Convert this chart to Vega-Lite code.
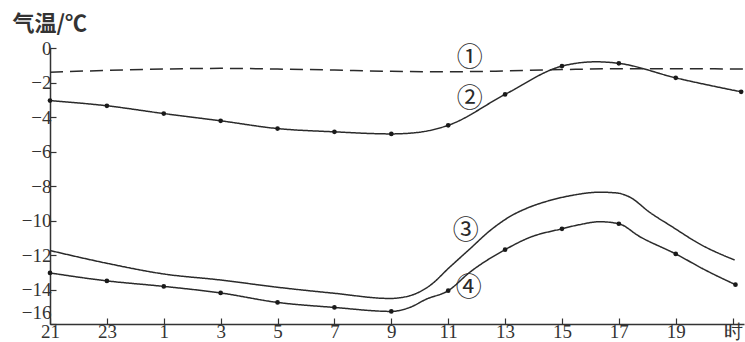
{
  "$schema": "https://vega.github.io/schema/vega-lite/v6.json",
  "autosize": {"type": "none"},
  "padding": {"left": 50, "top": 48, "right": 1, "bottom": 18},
  "width": 694,
  "height": 276,
  "background": "white",
  "config": {"view": {"stroke": null}},
  "datasets": {
    "lines": [
      {"s": "1", "t": 0, "v": -1.4, "dot": false},
      {"s": "1", "t": 2, "v": -1.3, "dot": false},
      {"s": "1", "t": 4, "v": -1.22, "dot": false},
      {"s": "1", "t": 6, "v": -1.18, "dot": false},
      {"s": "1", "t": 8, "v": -1.22, "dot": false},
      {"s": "1", "t": 10, "v": -1.28, "dot": false},
      {"s": "1", "t": 12, "v": -1.35, "dot": false},
      {"s": "1", "t": 14, "v": -1.38, "dot": false},
      {"s": "1", "t": 16, "v": -1.33, "dot": false},
      {"s": "1", "t": 18, "v": -1.25, "dot": false},
      {"s": "1", "t": 20, "v": -1.2, "dot": false},
      {"s": "1", "t": 22, "v": -1.2, "dot": false},
      {"s": "1", "t": 24.4, "v": -1.22, "dot": false},
      {"s": "2", "t": 0, "v": -3.05, "dot": true},
      {"s": "2", "t": 2, "v": -3.35, "dot": true},
      {"s": "2", "t": 4, "v": -3.8, "dot": true},
      {"s": "2", "t": 6, "v": -4.22, "dot": true},
      {"s": "2", "t": 8, "v": -4.67, "dot": true},
      {"s": "2", "t": 10, "v": -4.86, "dot": true},
      {"s": "2", "t": 12, "v": -4.98, "dot": true},
      {"s": "2", "t": 12.9, "v": -4.9, "dot": false},
      {"s": "2", "t": 14, "v": -4.48, "dot": true},
      {"s": "2", "t": 16, "v": -2.69, "dot": true},
      {"s": "2", "t": 18, "v": -1.05, "dot": true},
      {"s": "2", "t": 19.2, "v": -0.8, "dot": false},
      {"s": "2", "t": 20, "v": -0.89, "dot": true},
      {"s": "2", "t": 22, "v": -1.73, "dot": true},
      {"s": "2", "t": 24.3, "v": -2.54, "dot": true},
      {"s": "3", "t": 0, "v": -11.74, "dot": false},
      {"s": "3", "t": 2, "v": -12.48, "dot": false},
      {"s": "3", "t": 4, "v": -13.1, "dot": false},
      {"s": "3", "t": 6, "v": -13.45, "dot": false},
      {"s": "3", "t": 8, "v": -13.87, "dot": false},
      {"s": "3", "t": 10, "v": -14.22, "dot": false},
      {"s": "3", "t": 11.95, "v": -14.52, "dot": false},
      {"s": "3", "t": 12.65, "v": -14.36, "dot": false},
      {"s": "3", "t": 13.35, "v": -13.78, "dot": false},
      {"s": "3", "t": 14.05, "v": -12.71, "dot": false},
      {"s": "3", "t": 14.76, "v": -11.65, "dot": false},
      {"s": "3", "t": 15.46, "v": -10.6, "dot": false},
      {"s": "3", "t": 16.16, "v": -9.78, "dot": false},
      {"s": "3", "t": 16.87, "v": -9.22, "dot": false},
      {"s": "3", "t": 17.57, "v": -8.84, "dot": false},
      {"s": "3", "t": 18.27, "v": -8.57, "dot": false},
      {"s": "3", "t": 19.33, "v": -8.36, "dot": false},
      {"s": "3", "t": 19.91, "v": -8.4, "dot": false},
      {"s": "3", "t": 20.38, "v": -8.64, "dot": false},
      {"s": "3", "t": 21.08, "v": -9.52, "dot": false},
      {"s": "3", "t": 21.9, "v": -10.39, "dot": false},
      {"s": "3", "t": 22.84, "v": -11.36, "dot": false},
      {"s": "3", "t": 24.07, "v": -12.29, "dot": false},
      {"s": "4", "t": 0, "v": -13.04, "dot": true},
      {"s": "4", "t": 2, "v": -13.5, "dot": true},
      {"s": "4", "t": 4, "v": -13.82, "dot": true},
      {"s": "4", "t": 6, "v": -14.2, "dot": true},
      {"s": "4", "t": 8, "v": -14.75, "dot": true},
      {"s": "4", "t": 10, "v": -15.04, "dot": true},
      {"s": "4", "t": 12, "v": -15.27, "dot": true},
      {"s": "4", "t": 12.65, "v": -15.04, "dot": false},
      {"s": "4", "t": 13.23, "v": -14.56, "dot": false},
      {"s": "4", "t": 14, "v": -14.07, "dot": true},
      {"s": "4", "t": 14.76, "v": -13.0, "dot": false},
      {"s": "4", "t": 16, "v": -11.69, "dot": true},
      {"s": "4", "t": 16.87, "v": -10.98, "dot": false},
      {"s": "4", "t": 18, "v": -10.48, "dot": true},
      {"s": "4", "t": 18.62, "v": -10.24, "dot": false},
      {"s": "4", "t": 19.33, "v": -10.07, "dot": false},
      {"s": "4", "t": 20, "v": -10.19, "dot": true},
      {"s": "4", "t": 20.73, "v": -10.93, "dot": false},
      {"s": "4", "t": 22, "v": -11.94, "dot": true},
      {"s": "4", "t": 23.07, "v": -12.9, "dot": false},
      {"s": "4", "t": 24.1, "v": -13.72, "dot": true}
    ],
    "labels": [
      {"label": "①", "t": 14.76, "v": -0.56},
      {"label": "②", "t": 14.76, "v": -2.97},
      {"label": "③", "t": 14.62, "v": -10.58},
      {"label": "④", "t": 14.72, "v": -13.93}
    ]
  },
  "encoding": {
    "x": {
      "field": "t", "type": "quantitative",
      "scale": {"domain": [0, 24.4], "nice": false, "zero": false},
      "axis": {
        "values": [0, 2, 4, 6, 8, 10, 12, 14, 16, 18, 20, 22, 24],
        "labelExpr": "datum.value == 24 ? '时' : '' + ((datum.value + 21) % 24)",
        "title": null,
        "grid": false,
        "domainColor": "#333", "domainWidth": 1.5,
        "tickColor": "#333", "tickSize": -6, "tickWidth": 1.2,
        "labelFont": "Liberation Serif", "labelFontSize": 19, "labelColor": "#333",
        "labelPadding": 4, "labelFlush": false, "labelOverlap": false
      }
    },
    "y": {
      "field": "v", "type": "quantitative",
      "scale": {"domain": [-16, 0], "nice": false, "zero": false},
      "axis": {
        "values": [0, -2, -4, -6, -8, -10, -12, -14, -16],
        "title": "气温/℃",
        "titleAngle": 0, "titleX": -38, "titleY": -25,
        "titleAlign": "left", "titleBaseline": "middle",
        "titleFont": "Noto Sans CJK SC", "titleFontSize": 22, "titleFontWeight": "bold", "titleColor": "#333",
        "grid": false,
        "domainColor": "#333", "domainWidth": 1.5,
        "tickColor": "#333", "tickSize": -6, "tickWidth": 1.2,
        "labelFont": "Liberation Serif", "labelFontSize": 19, "labelColor": "#333",
        "labelPadding": 5, "labelFlush": false, "labelOverlap": false, "labelBound": false,
        "labelBaseline": {"condition": {"test": "datum.value == -16", "value": "bottom"}, "value": "middle"},
        "labelOffset": {"condition": {"test": "datum.value == -16", "value": -2}, "value": 0}
      }
    }
  },
  "layer": [
    {
      "data": {"name": "lines"},
      "mark": {"type": "line", "interpolate": "monotone", "strokeWidth": 1.5, "color": "#2a2a2a"},
      "encoding": {
        "detail": {"field": "s"},
        "strokeDash": {
          "field": "s", "type": "nominal",
          "scale": {"domain": ["1", "2", "3", "4"], "range": [[13, 7], [1, 0], [1, 0], [1, 0]]},
          "legend": null
        }
      }
    },
    {
      "data": {"name": "lines"},
      "transform": [{"filter": "datum.dot"}],
      "mark": {"type": "circle", "size": 22, "color": "#1a1a1a", "opacity": 1}
    },
    {
      "data": {"name": "labels"},
      "mark": {"type": "text", "font": "Noto Sans CJK SC", "fontSize": 26, "color": "#2a2a2a", "align": "center", "baseline": "middle"},
      "encoding": {
        "text": {"field": "label"}
      }
    }
  ]
}
